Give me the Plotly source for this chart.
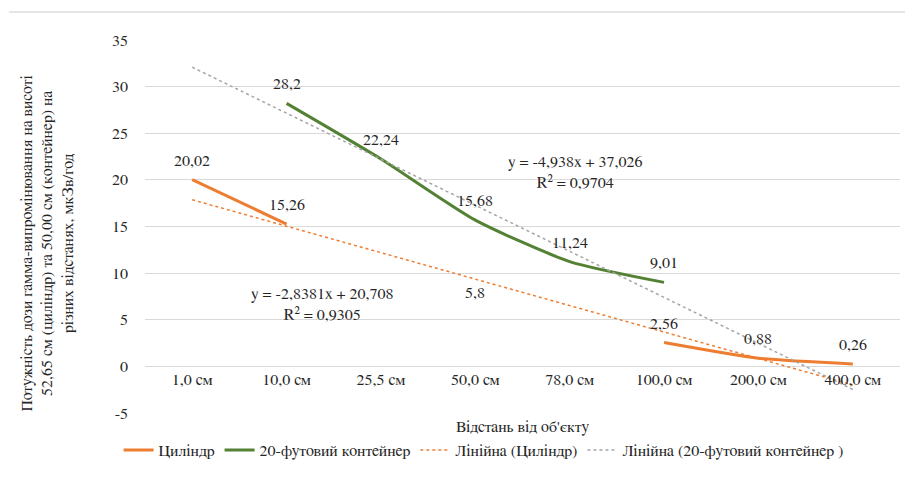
import numpy as np
import plotly.graph_objects as go

categories = ["1,0 см", "10,0 см", "25,5 см", "50,0 см", "78,0 см", "100,0 см", "200,0 см", "400,0 см"]
cylinder = [20.02, 15.26, None, 5.8, None, 2.56, 0.88, 0.26]
container = [None, 28.2, 22.24, 15.68, 11.24, 9.01, None, None]
yticks = [-5, 0, 5, 10, 15, 20, 25, 30, 35]

ORANGE = "#ed7d31"
GREEN = "#548235"
GRAY = "#a5a5a5"
TXT = "#262626"
FONT = "FreeSerif"

idx = np.arange(1, len(categories) + 1)


def fit(vals):
    xs = np.array([i for i, v in zip(idx, vals) if v is not None], dtype=float)
    ys = np.array([v for v in vals if v is not None], dtype=float)
    k, b = np.polyfit(xs, ys, 1)
    pred = k * xs + b
    r2 = 1 - ((ys - pred) ** 2).sum() / ((ys - ys.mean()) ** 2).sum()
    return k, b, r2


def fmt(v, d):
    return f"{v:.{d}f}".replace(".", ",")


def label(v):
    s = f"{v:.2f}".rstrip("0").rstrip(".")
    return s.replace(".", ",")


kc, bc, r2c = fit(cylinder)
kt, bt, r2t = fit(container)

fnt = dict(family=FONT, size=16, color=TXT)

fig = go.Figure()
fig.add_trace(go.Scatter(x=categories, y=cylinder, mode="lines", name="Циліндр",
                         line=dict(color=ORANGE, width=3, shape="spline", smoothing=0.6),
                         connectgaps=False))
fig.add_trace(go.Scatter(x=categories, y=container, mode="lines", name="20-футовий контейнер",
                         line=dict(color=GREEN, width=3, shape="spline", smoothing=0.6),
                         connectgaps=False))
fig.add_trace(go.Scatter(x=categories, y=list(kc * idx + bc), mode="lines", name="Лінійна (Циліндр)",
                         line=dict(color=ORANGE, width=1.5, dash="dot")))
fig.add_trace(go.Scatter(x=categories, y=list(kt * idx + bt), mode="lines",
                         name="Лінійна (20-футовий контейнер )",
                         line=dict(color=GRAY, width=1.5, dash="dot")))

ann = []
for series in (cylinder, container):
    for c, v in zip(categories, series):
        if v is None:
            continue
        ann.append(dict(x=c, y=v, text=label(v), showarrow=False, yshift=19, font=fnt))

ann.append(dict(x=4.06, y=20.8, xref="x", yref="y", showarrow=False,
                text=f"y = {fmt(kt, 3)}x + {fmt(bt, 3)}<br>R² = {fmt(r2t, 4)}", font=fnt))
ann.append(dict(x=1.38, y=6.6, xref="x", yref="y", showarrow=False,
                text=f"y = {fmt(kc, 4)}x + {fmt(bc, 3)}<br>R² = {fmt(r2c, 4)}", font=fnt))
ann.append(dict(x=0.5, y=-0.012, xref="paper", yref="paper", showarrow=False,
                text="Відстань від об'єкту", yanchor="top", xanchor="center", font=fnt))
ann.append(dict(x=-0.129, y=0.456, xref="paper", yref="paper", showarrow=False, textangle=-90,
                xanchor="center", yanchor="middle",
                text="Потужність дози гамма-випромінювання на висоті<br>52,65 см (циліндр) та 50,00 см (контейнер) на<br>різних відстанях, мкЗв/год",
                font=fnt))

fig.update_layout(
    width=905, height=471,
    margin=dict(l=137, r=13, t=32, b=64),
    paper_bgcolor="white", plot_bgcolor="white",
    font=fnt,
    showlegend=True,
    legend=dict(orientation="h", x=-0.035, y=-0.054, xanchor="left", yanchor="top",
                font=fnt, itemwidth=30, tracegroupgap=0),
    annotations=ann,
    shapes=[dict(type="line", xref="paper", yref="paper", x0=-0.18, x1=1.017, y0=1.075, y1=1.075,
                 line=dict(color="#cccccc", width=1))],
)
fig.update_xaxes(type="category", categoryorder="array", categoryarray=categories,
                 anchor="free", position=0.125, showgrid=False, showline=False, ticks="",
                 ticklabelstandoff=2, tickfont=fnt,
                 range=[-0.5, len(categories) - 0.5])
fig.update_yaxes(range=[-5, 35], tickvals=yticks, ticktext=[str(t) for t in yticks],
                 showgrid=True, gridcolor="#d9d9d9", gridwidth=1, zeroline=True,
                 zerolinecolor="#d9d9d9", zerolinewidth=1, showline=False, ticks="",
                 ticklabelstandoff=16, tickfont=fnt)

fig.write_html("out.html")
